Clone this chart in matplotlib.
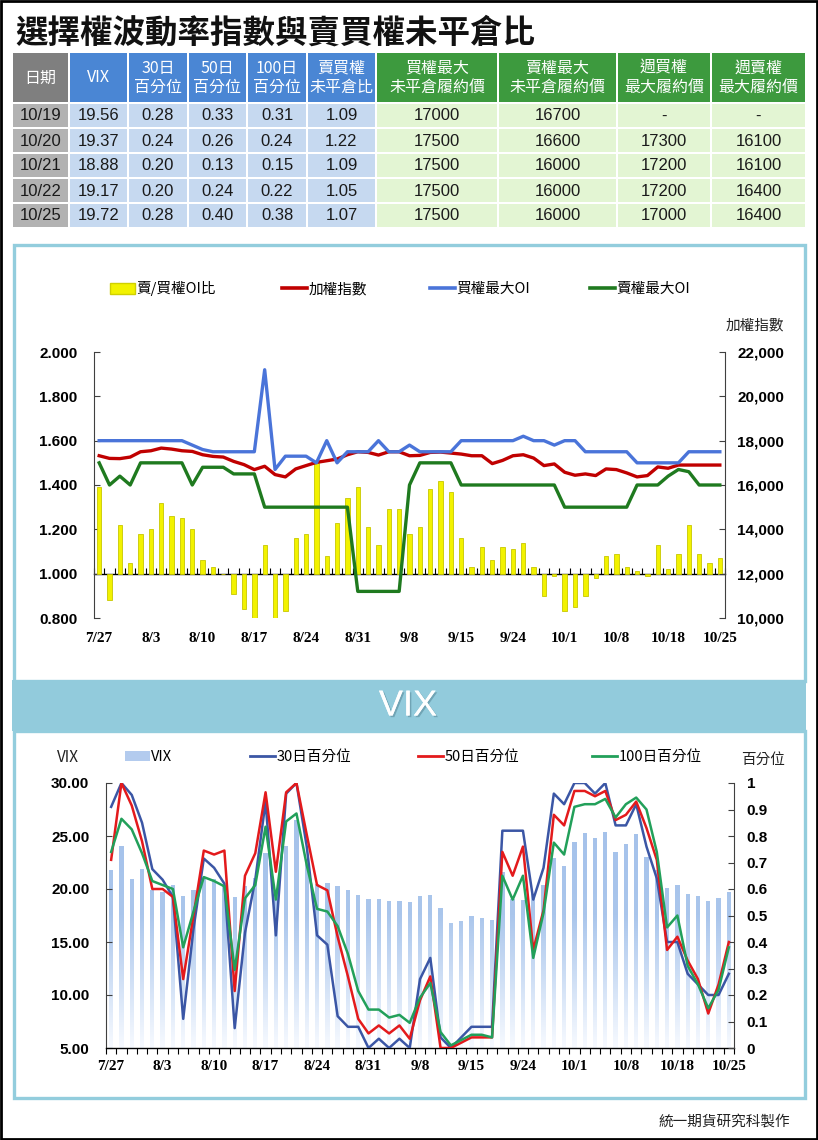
import numpy as np
import matplotlib
matplotlib.use('Agg')
import matplotlib.pyplot as plt
import matplotlib.patheffects as pe
from matplotlib.patches import Rectangle, Patch
from matplotlib.lines import Line2D
from matplotlib.path import Path
from matplotlib.colors import LinearSegmentedColormap

plt.rcParams['font.family'] = ['Noto Sans CJK TC', 'DejaVu Sans']

# ---------------- data ----------------
dates = ['7/27', '7/28', '7/29', '7/30', '8/2', '8/3', '8/4', '8/5', '8/6', '8/9',
         '8/10', '8/11', '8/12', '8/13', '8/16', '8/17', '8/18', '8/19', '8/20', '8/23',
         '8/24', '8/25', '8/26', '8/27', '8/30', '8/31', '9/2', '9/3', '9/6', '9/7',
         '9/8', '9/9', '9/10', '9/13', '9/14', '9/15', '9/16', '9/17', '9/22', '9/23',
         '9/24', '9/27', '9/28', '9/29', '9/30', '10/1', '10/4', '10/5', '10/6', '10/7',
         '10/8', '10/12', '10/13', '10/14', '10/15', '10/18', '10/19', '10/20', '10/21', '10/22',
         '10/25']

# put/call OI ratio (bars, left axis)
pc_ratio = [1.39, 0.88, 1.22, 1.05, 1.18, 1.20, 1.32, 1.26, 1.25, 1.20,
            1.06, 1.03, 1.00, 0.91, 0.84, 0.80, 1.13, 0.80, 0.83, 1.16,
            1.18, 1.50, 1.08, 1.23, 1.34, 1.39, 1.21, 1.13, 1.29, 1.29,
            1.18, 1.21, 1.38, 1.42, 1.37, 1.16, 1.03, 1.12, 1.06, 1.12,
            1.11, 1.14, 1.03, 0.90, 0.99, 0.83, 0.85, 0.90, 0.98, 1.08,
            1.09, 1.03, 1.01, 0.99, 1.13, 1.02, 1.09, 1.22, 1.09, 1.05,
            1.07]
# TAIEX (right axis)
taiex = [17320, 17200, 17190, 17260, 17500, 17545, 17665, 17620, 17545, 17515,
         17365, 17290, 17260, 17065, 16920, 16695, 16845, 16470, 16365, 16725,
         16875, 17020, 17095, 17170, 17365, 17500, 17470, 17350, 17500, 17500,
         17320, 17335, 17470, 17485, 17440, 17395, 17320, 17320, 16965, 17110,
         17320, 17365, 17215, 16875, 16950, 16575, 16440, 16500, 16425, 16725,
         16695, 16545, 16365, 16425, 16815, 16755, 16900, 16900, 16900, 16900,
         16900]
call_max_oi = [18000, 18000, 18000, 18000, 18000, 18000, 18000, 18000, 18000, 17800,
               17600, 17500, 17500, 17500, 17500, 17500, 21200, 16700, 17300, 17300,
               17300, 17000, 18000, 17000, 17500, 17500, 17500, 18000, 17500, 17500,
               17800, 17500, 17500, 17500, 17500, 18000, 18000, 18000, 18000, 18000,
               18000, 18200, 18000, 18000, 17800, 18000, 18000, 17500, 17500, 17500,
               17500, 17500, 17000, 17000, 17000, 17000, 17000, 17500, 17500, 17500,
               17500]
put_max_oi = [17000, 16000, 16400, 16000, 17000, 17000, 17000, 17000, 17000, 16000,
              16800, 16800, 16800, 16500, 16500, 16500, 15000, 15000, 15000, 15000,
              15000, 15000, 15000, 15000, 15000, 11200, 11200, 11200, 11200, 11200,
              16000, 17000, 17000, 17000, 17000, 16000, 16000, 16000, 16000, 16000,
              16000, 16000, 16000, 16000, 16000, 15000, 15000, 15000, 15000, 15000,
              15000, 15000, 16000, 16000, 16000, 16400, 16700, 16600, 16000, 16000,
              16000]

vix = [21.8, 24.1, 20.9, 21.9, 19.9, 19.7, 20.4, 19.3, 19.9, 21.1,
       20.9, 20.4, 19.2, 20.3, 21.0, 23.4, 19.8, 24.1, 26.5, 22.8,
       20.5, 20.6, 20.3, 19.9, 19.4, 19.1, 19.1, 18.9, 18.9, 18.8,
       19.3, 19.4, 18.2, 16.8, 17.0, 17.5, 17.3, 17.1, 21.6, 19.1,
       19.0, 19.5, 20.4, 22.9, 22.2, 24.4, 25.3, 24.8, 25.4, 23.5,
       24.2, 25.2, 23.0, 21.8, 20.1, 20.4, 19.56, 19.37, 18.88, 19.17,
       19.72]
pct30 = [0.91, 1.00, 0.955, 0.85, 0.675, 0.635, 0.57, 0.11, 0.45, 0.715,
         0.68, 0.62, 0.075, 0.435, 0.635, 0.93, 0.425, 0.96, 1.00, 0.76,
         0.425, 0.39, 0.12, 0.08, 0.08, 0.00, 0.035, 0.00, 0.035, 0.00,
         0.26, 0.34, 0.04, 0.00, 0.04, 0.08, 0.08, 0.08, 0.82, 0.82,
         0.82, 0.56, 0.68, 0.96, 0.92, 1.00, 1.00, 0.96, 1.00, 0.84,
         0.84, 0.92, 0.76, 0.64, 0.40, 0.40, 0.28, 0.24, 0.20, 0.20,
         0.28]
pct50 = [0.71, 1.00, 0.915, 0.78, 0.60, 0.60, 0.57, 0.26, 0.50, 0.745,
         0.73, 0.745, 0.215, 0.65, 0.735, 0.965, 0.665, 0.965, 1.00, 0.805,
         0.615, 0.595, 0.42, 0.27, 0.11, 0.055, 0.085, 0.055, 0.085, 0.035,
         0.18, 0.27, 0.00, 0.00, 0.02, 0.04, 0.04, 0.04, 0.74, 0.65,
         0.76, 0.37, 0.52, 0.88, 0.84, 0.97, 0.97, 0.95, 0.97, 0.86,
         0.88, 0.93, 0.83, 0.71, 0.37, 0.42, 0.33, 0.26, 0.13, 0.24,
         0.40]
pct100 = [0.74, 0.865, 0.825, 0.735, 0.63, 0.615, 0.60, 0.38, 0.515, 0.645,
          0.63, 0.61, 0.295, 0.565, 0.615, 0.835, 0.56, 0.855, 0.885, 0.69,
          0.525, 0.515, 0.46, 0.355, 0.215, 0.145, 0.145, 0.115, 0.125, 0.095,
          0.19, 0.245, 0.06, 0.01, 0.03, 0.05, 0.05, 0.04, 0.65, 0.56,
          0.65, 0.34, 0.51, 0.775, 0.73, 0.91, 0.92, 0.92, 0.94, 0.87,
          0.92, 0.945, 0.90, 0.74, 0.455, 0.50, 0.31, 0.24, 0.15, 0.22,
          0.38]

# summary table
tbl_dates = ['10/19', '10/20', '10/21', '10/22', '10/25']
tbl_vix = [19.56, 19.37, 18.88, 19.17, 19.72]
tbl_p30 = [0.28, 0.24, 0.20, 0.20, 0.28]
tbl_p50 = [0.33, 0.26, 0.13, 0.24, 0.40]
tbl_p100 = [0.31, 0.24, 0.15, 0.22, 0.38]
tbl_ratio = [1.09, 1.22, 1.09, 1.05, 1.07]
tbl_call_max = [17000, 17500, 17500, 17500, 17500]
tbl_put_max = [16700, 16600, 16000, 16000, 16000]
tbl_wk_call = [None, 17300, 17200, 17200, 17000]
tbl_wk_put = [None, 16100, 16100, 16400, 16400]
tbl_headers = ['日期', 'VIX', '30日\n百分位', '50日\n百分位', '100日\n百分位', '賣買權\n未平倉比',
               '買權最大\n未平倉履約價', '賣權最大\n未平倉履約價', '週買權\n最大履約價', '週賣權\n最大履約價']

# ---------------- layout helpers ----------------
W, H = 818, 1140
NUM = 'Liberation Sans'
SERIF = 'Liberation Serif'


def box(x0, y0, x1, y1):
    return [x0 / W, 1 - y1 / H, (x1 - x0) / W, (y1 - y0) / H]


fig = plt.figure(figsize=(W / 100, H / 100), dpi=100)
bg = fig.add_axes([0, 0, 1, 1])
bg.set_xlim(0, W)
bg.set_ylim(H, 0)
bg.axis('off')

# outer frame, title
bg.add_patch(Rectangle((1, 1), W - 2, H - 2, fill=False, ec='black', lw=2))
bg.text(15, 33, '選擇權波動率指數與賣買權未平倉比', fontsize=23.4, fontweight='bold',
        va='center', ha='left', color='#111111')

# ---------------- table ----------------
col_x = [12, 69, 128, 188, 247, 307, 376, 498, 617, 711, 806]
row_y = [53, 103, 128, 153, 178, 203, 228]
head_col = ['#7f7f7f'] + ['#4a86d4'] * 5 + ['#3d9a3e'] * 4
body_col = ['#b2b2b2'] + ['#c6d9f0'] * 5 + ['#e3f5d3'] * 4


def f2(v):
    return f'{v:.2f}'


def fint(v):
    return '-' if v is None else str(v)


columns = [tbl_dates, [f2(v) for v in tbl_vix], [f2(v) for v in tbl_p30],
           [f2(v) for v in tbl_p50], [f2(v) for v in tbl_p100], [f2(v) for v in tbl_ratio],
           [fint(v) for v in tbl_call_max], [fint(v) for v in tbl_put_max],
           [fint(v) for v in tbl_wk_call], [fint(v) for v in tbl_wk_put]]

for c in range(len(tbl_headers)):
    x0, x1 = col_x[c] + 1, col_x[c + 1] - 1
    bg.add_patch(Rectangle((x0, row_y[0]), x1 - x0, row_y[1] - row_y[0] - 1,
                           fc=head_col[c], ec='none'))
    bg.text((x0 + x1) / 2, (row_y[0] + row_y[1]) / 2, tbl_headers[c], ha='center', va='center',
            color='white', fontsize=11.5, linespacing=1.2)
    for r in range(len(tbl_dates)):
        y0, y1 = row_y[r + 1] + 1, row_y[r + 2] - 1
        bg.add_patch(Rectangle((x0, y0), x1 - x0, y1 - y0, fc=body_col[c], ec='none'))
        bg.text((x0 + x1) / 2, (y0 + y1) / 2 + 0.5, columns[c][r], ha='center', va='center',
                color='#1a1a1a', fontsize=12, family=NUM)

# ---------------- panels ----------------
panel_ec = '#93cddd'
bg.add_patch(Rectangle((13.5, 244.5), 791, 436, fill=False, ec=panel_ec, lw=2.4))
bg.add_patch(Rectangle((12, 680), 794, 51, fc='#92cbdc', ec='none'))
bg.add_patch(Rectangle((13.5, 731), 791, 367, fill=False, ec=panel_ec, lw=2.4))
bg.text(408, 706, 'VIX', ha='center', va='center', fontsize=26, color='white',
        family=NUM,
        path_effects=[pe.withSimplePatchShadow(offset=(1.2, -1.2), shadow_rgbFace='#4f7f8f', alpha=0.5),
                      pe.Normal()])
bg.text(790, 1122, '統一期貨研究科製作', ha='right', va='center', fontsize=10.5, color='#222222')

x = np.arange(len(dates))

# ---------------- top chart ----------------
RED, BLUE, GREEN, YELLOW = '#c00000', '#4a74d9', '#1f7a1f', '#f2f200'

ax1 = fig.add_axes(box(94, 352, 725, 618))
ax1.patch.set_alpha(0)
ax1.bar(x, np.array(pc_ratio) - 1, bottom=1, width=0.42, color=YELLOW,
        edgecolor='#c8c800', linewidth=0.6, zorder=2)
ax1.set_xlim(-0.5, len(dates) - 0.5)
ax1.set_ylim(0.8, 2.0)
yt = np.round(np.arange(0.8, 2.001, 0.2), 1)
ax1.set_yticks(yt, [f'{v:.3f}' for v in yt], fontweight='bold', family=NUM, fontsize=11)
ax1.set_xticks(x[::5], dates[::5], fontweight='bold', family=SERIF, fontsize=11)
ax1.tick_params(axis='x', length=0, pad=10)
ax1.tick_params(axis='y', direction='in', length=4, pad=12, color='#404040')
for s in ['top', 'bottom', 'right']:
    ax1.spines[s].set_visible(False)
ax1.spines['left'].set_color('#404040')
ax1.spines['left'].set_linewidth(0.8)

base = ax1.secondary_xaxis((1.0 - 0.8) / 1.2)
base.set_xticks(np.arange(-0.5, len(dates), 1))
base.tick_params(axis='x', direction='in', length=4, labelbottom=False, labeltop=False, width=0.8)
for s in base.spines.values():
    s.set_linewidth(1.0)
    s.set_color('black')

ax2 = ax1.twinx()
ax2.plot(x, taiex, color=RED, lw=2.4, zorder=3)
ax2.plot(x, call_max_oi, color=BLUE, lw=2.4, zorder=3)
ax2.plot(x, put_max_oi, color=GREEN, lw=2.4, zorder=3)
ax2.set_ylim(10000, 22000)
rt = np.arange(10000, 22001, 2000)
ax2.set_yticks(rt, [f'{v:,}' for v in rt], fontweight='bold', family=NUM, fontsize=11)
ax2.tick_params(axis='y', direction='in', length=4, pad=9, color='#404040')
for s in ['top', 'bottom', 'left']:
    ax2.spines[s].set_visible(False)
ax2.spines['right'].set_color('#404040')
ax2.spines['right'].set_linewidth(0.8)
bg.text(755, 325, '加權指數', ha='center', va='center', fontsize=10.5, color='#222222')

top_items = [(Patch(facecolor=YELLOW, edgecolor='#d0d000'), '賣/買權OI比', 110),
             (Line2D([], [], color=RED, lw=2.6), '加權指數', 282),
             (Line2D([], [], color=BLUE, lw=2.6), '買權最大OI', 430),
             (Line2D([], [], color=GREEN, lw=2.6), '賣權最大OI', 590)]
for h, lab, px in top_items:
    fig.legend([h], [lab], loc='center left', bbox_to_anchor=(px / W, 1 - 289 / H),
               frameon=False, borderpad=0, borderaxespad=0, handlelength=1.7,
               handletextpad=0.1, fontsize=10.5)

# ---------------- bottom chart ----------------
C30, C50, C100 = '#3b56a5', '#e31a1c', '#22a05a'

ax3 = fig.add_axes(box(106, 783, 734, 1048))
ax3.patch.set_alpha(0)
bars = ax3.bar(x, vix, width=0.42, color='none', edgecolor='none')
clip = Path.make_compound_path(*[b.get_path().transformed(b.get_patch_transform()) for b in bars])
cmap = LinearSegmentedColormap.from_list('vixfade', [(0, '#f7faff'), (0.5, '#aac6ec'), (1, '#a3c0ea')])
grad = np.linspace(0, 1, 256).reshape(-1, 1)
im = ax3.imshow(grad, extent=[-0.5, len(dates) - 0.5, 5, 30], origin='lower', aspect='auto',
                cmap=cmap, vmin=0, vmax=1, zorder=1)
im.set_clip_path(clip, ax3.transData)
ax3.set_xlim(-0.5, len(dates) - 0.5)
ax3.set_ylim(5, 30)
lt = np.arange(5, 31, 5)
ax3.set_yticks(lt, [f'{v:.2f}' for v in lt], fontweight='bold', family=NUM, fontsize=11)
ax3.set_xticks(x[::5], dates[::5], fontweight='bold', family=SERIF, fontsize=11)
ax3.set_xticks(np.arange(-0.5, len(dates), 1), minor=True)
ax3.tick_params(axis='x', which='major', length=0, pad=9)
ax3.tick_params(axis='x', which='minor', direction='out', length=4, width=0.8)
ax3.tick_params(axis='y', direction='in', length=4, pad=12, color='#404040')
for s in ['top', 'right']:
    ax3.spines[s].set_visible(False)
ax3.spines['left'].set_color('#404040')
ax3.spines['left'].set_linewidth(0.8)
ax3.spines['bottom'].set_color('black')
ax3.spines['bottom'].set_linewidth(1.0)

ax4 = ax3.twinx()
ax4.plot(x, pct30, color=C30, lw=1.8)
ax4.plot(x, pct50, color=C50, lw=1.8)
ax4.plot(x, pct100, color=C100, lw=1.8)
ax4.set_ylim(0, 1)
pt = np.round(np.arange(0, 1.001, 0.1), 1)
ax4.set_yticks(pt, [f'{v:g}' for v in pt], fontweight='bold', family=NUM, fontsize=11)
ax4.tick_params(axis='y', direction='in', length=4, pad=9, color='#404040')
for s in ['top', 'bottom', 'left']:
    ax4.spines[s].set_visible(False)
ax4.spines['right'].set_color('#404040')
ax4.spines['right'].set_linewidth(0.8)

bg.text(68, 757, 'VIX', ha='center', va='center', fontsize=11, color='#222222')
bg.text(763, 760, '百分位', ha='center', va='center', fontsize=10.5, color='#222222')

bot_items = [(Patch(facecolor='#b3cbee', edgecolor='none'), 'VIX', 125),
             (Line2D([], [], color=C30, lw=2), '30日百分位', 250),
             (Line2D([], [], color=C50, lw=2), '50日百分位', 418),
             (Line2D([], [], color=C100, lw=2), '100日百分位', 592)]
for h, lab, px in bot_items:
    fig.legend([h], [lab], loc='center left', bbox_to_anchor=(px / W, 1 - 757 / H),
               frameon=False, borderpad=0, borderaxespad=0, handlelength=1.7,
               handletextpad=0.1, fontsize=10.5)

fig.savefig('out.png', dpi=100)
